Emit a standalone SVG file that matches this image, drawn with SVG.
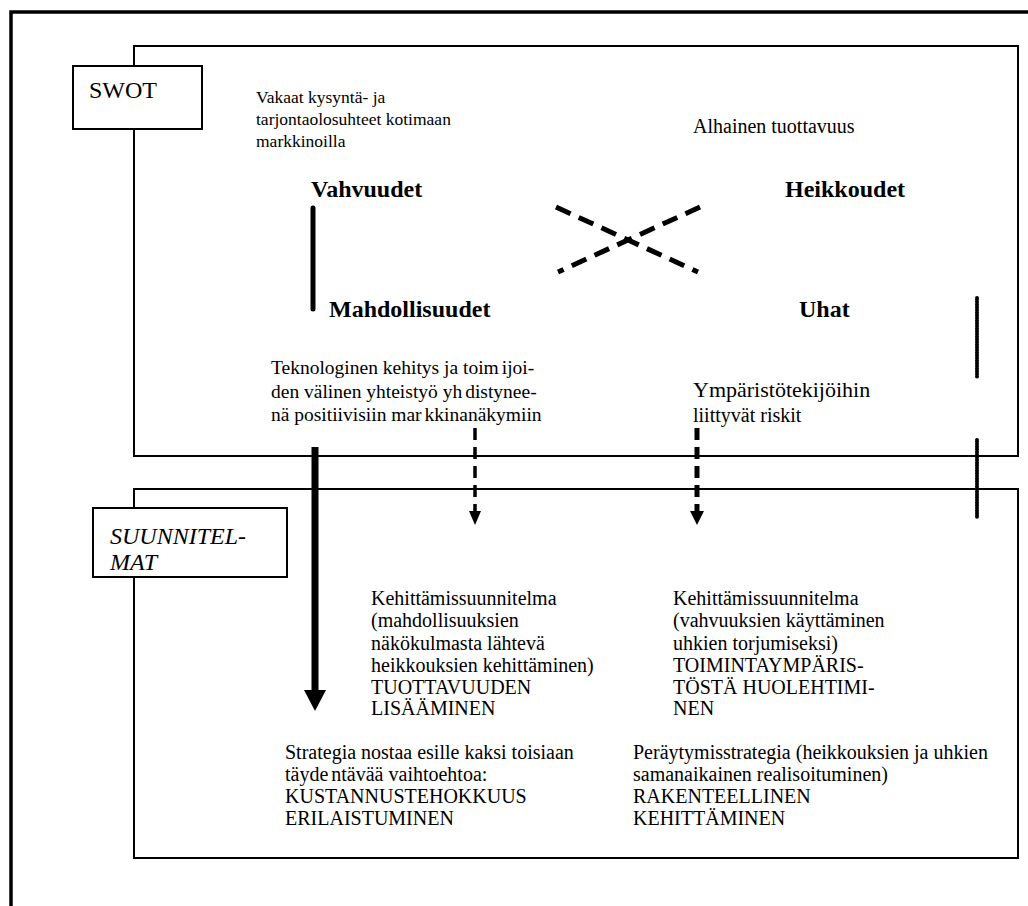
<svg xmlns="http://www.w3.org/2000/svg" width="1028" height="906" viewBox="0 0 1028 906">
<style>
.t{font-family:"Liberation Serif","Times New Roman",serif;font-size:20px;fill:#000}
.s{font-size:17.5px}
.b{font-family:"Liberation Serif","Times New Roman",serif;font-size:24px;font-weight:bold;fill:#000}
.box{fill:none;stroke:#000;stroke-width:2}
.lbl{fill:#fff;stroke:#000;stroke-width:2}
.dash{stroke-dasharray:16 9}
.dot{stroke-width:4;stroke-dasharray:0 1.6;stroke-linecap:round}
</style>
<rect width="1028" height="906" fill="#fff"/>
<g id="frame"><path d="M11,906V12H1028" fill="none" stroke="#000" stroke-width="3.5"/></g>
<g id="swot-area"><rect class="box" x="134" y="46" width="884" height="410"/></g>
<g id="plans-area"><rect class="box" x="134" y="489" width="884" height="369"/></g>
<g id="swot-label"><rect class="lbl" x="73" y="66" width="129" height="63"/><text class="t" x="89" y="98" style="font-size:24px">SWOT</text></g>
<g id="plans-label"><rect class="lbl" x="93" y="508" width="194" height="69"/><text class="t" x="110" y="544" style="font-size:24px;font-style:italic">SUUNNITEL-</text><text class="t" x="110" y="570" style="font-size:24px;font-style:italic">MAT</text></g>
<g id="strengths"><text class="t s" x="256" y="103">Vakaat kysyntä- ja</text><text class="t s" x="256" y="125">tarjontaolosuhteet kotimaan</text><text class="t s" x="256" y="147">markkinoilla</text><text class="b" x="311" y="197">Vahvuudet</text></g>
<g id="weaknesses"><text class="t" x="693" y="133">Alhainen tuottavuus</text><text class="b" x="785" y="197">Heikkoudet</text></g>
<g id="opportunities"><text class="b" x="329" y="317">Mahdollisuudet</text><text class="t" x="271" y="374" style="font-size:19.5px">Teknologinen kehitys ja toim<tspan dx="3">ijoi-</tspan></text><text class="t" x="271" y="398" style="font-size:19.5px">den välinen yhteistyö yh<tspan dx="3">distynee-</tspan></text><text class="t" x="271" y="421" style="font-size:19.5px">nä positiivisiin mar<tspan dx="3">kkinanäkymiin</tspan></text></g>
<g id="threats"><text class="b" x="799" y="317">Uhat</text><text class="t" x="693" y="397" style="font-size:22px">Ympäristötekijöihin</text><text class="t" x="693" y="422">liittyvät riskit</text></g>
<g id="plan-wo"><text class="t" x="371" y="605">Kehittämissuunnitelma</text><text class="t" x="371" y="627">(mahdollisuuksien</text><text class="t" x="371" y="650">näkökulmasta lähtevä</text><text class="t" x="371" y="672">heikkouksien kehittäminen)</text><text class="t" x="371" y="694">TUOTTAVUUDEN</text><text class="t" x="371" y="715">LISÄÄMINEN</text></g>
<g id="plan-st"><text class="t" x="673" y="605">Kehittämissuunnitelma</text><text class="t" x="673" y="627">(vahvuuksien käyttäminen</text><text class="t" x="673" y="650">uhkien torjumiseksi)</text><text class="t" x="673" y="672">TOIMINTAYMPÄRIS-</text><text class="t" x="673" y="694">TÖSTÄ HUOLEHTIMI-</text><text class="t" x="673" y="715">NEN</text></g>
<g id="plan-so"><text class="t" x="285" y="759">Strategia nostaa esille kaksi toisiaan</text><text class="t" x="285" y="781">täyde<tspan dx="3">ntävää vaihtoehtoa:</tspan></text><text class="t" x="285" y="803">KUSTANNUSTEHOKKUUS</text><text class="t" x="285" y="825">ERILAISTUMINEN</text></g>
<g id="plan-wt"><text class="t" x="633" y="759">Peräytymisstrategia (heikkouksien ja uhkien</text><text class="t" x="633" y="781">samanaikainen realisoituminen)</text><text class="t" x="633" y="803">RAKENTEELLINEN</text><text class="t" x="633" y="825">KEHITTÄMINEN</text></g>
<g id="connectors" stroke="#000" fill="none">
<line x1="313" y1="208" x2="313" y2="309" stroke-width="5" stroke-linecap="round"/>
<line class="dash" x1="556" y1="207" x2="698" y2="272" stroke-width="5"/>
<line class="dash" x1="700" y1="207" x2="558" y2="272" stroke-width="5"/>
<line class="dot" x1="977" y1="298" x2="977" y2="377"/>
<line class="dot" x1="977" y1="440" x2="977" y2="518"/>
<line x1="315" y1="447" x2="315" y2="690" stroke-width="7"/>
<path d="M304,690H326L315,711z" fill="#000" stroke="none"/>
<line x1="475" y1="428" x2="475" y2="512" stroke-width="3.5" stroke-dasharray="12 7"/>
<path d="M469,511H481L475,525z" fill="#000" stroke="none"/>
<line x1="697" y1="428" x2="697" y2="512" stroke-width="5" stroke-dasharray="12 7"/>
<path d="M690,511H704L697,525z" fill="#000" stroke="none"/>
</g>
</svg>
